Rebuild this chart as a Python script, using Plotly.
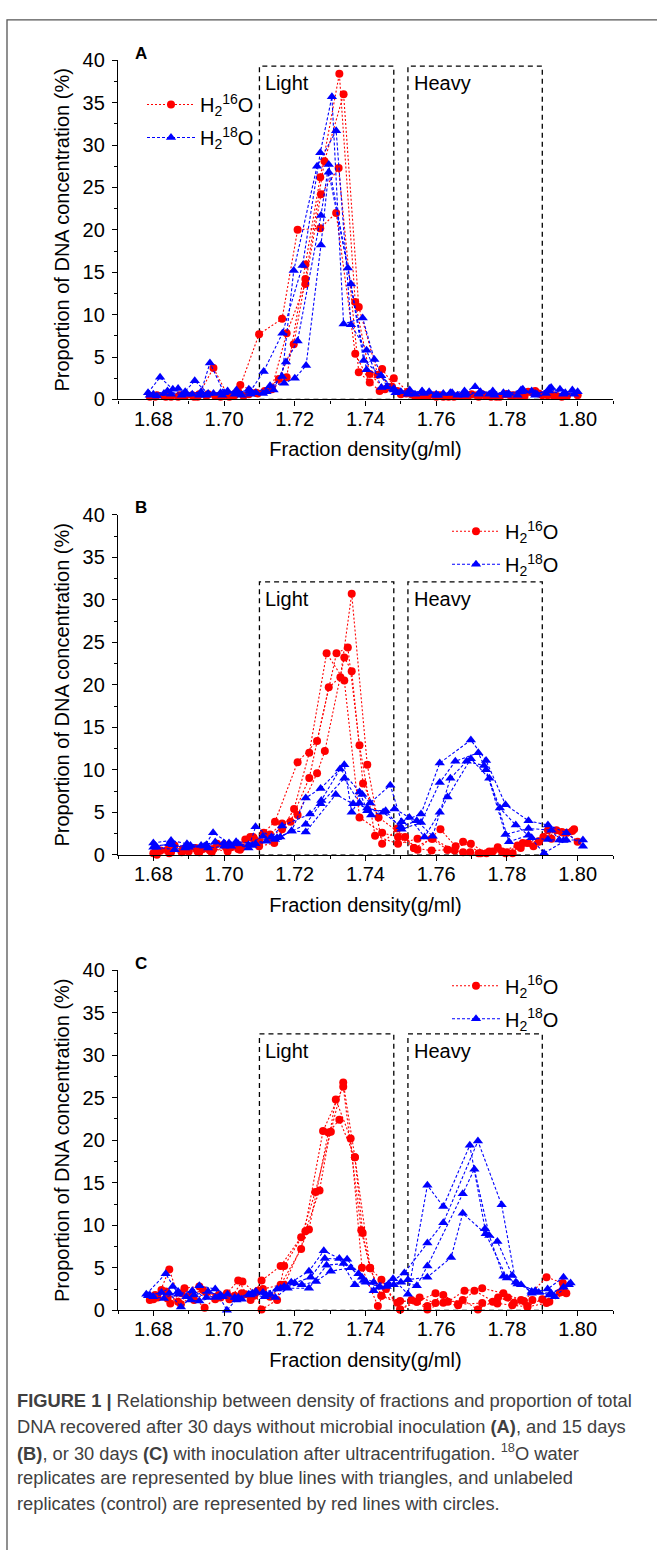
import plotly.graph_objects as go

# ---------------- data ----------------
# Panel A : 30 days, no inoculation
ra1_x = [1.6795, 1.6835, 1.6875, 1.6915, 1.6955, 1.6995, 1.7040, 1.7099, 1.7164, 1.7208, 1.7272, 1.7317, 1.7371, 1.7412, 1.7447, 1.7490, 1.7530, 1.7570, 1.7610, 1.7650, 1.7690, 1.7730, 1.7770, 1.7810, 1.7850, 1.7890, 1.7930, 1.7970]
ra1_y = [0.4, 0.3, 0.5, 0.3, 0.6, 0.4, 0.9, 7.7, 9.5, 20.0, 20.2, 22.0, 5.4, 2.0, 3.6, 1.0, 0.6, 0.4, 0.5, 0.3, 0.4, 0.6, 0.3, 0.5, 0.4, 0.7, 0.5, 0.4]
ra2_x = [1.6805, 1.6845, 1.6885, 1.6925, 1.6970, 1.7010, 1.7046, 1.7090, 1.7135, 1.7177, 1.7230, 1.7272, 1.7326, 1.7371, 1.7412, 1.7455, 1.7500, 1.7540, 1.7580, 1.7620, 1.7660, 1.7700, 1.7740, 1.7780, 1.7820, 1.7860, 1.7900, 1.7940, 1.8000]
ra2_y = [0.3, 0.5, 0.4, 0.3, 3.7, 0.5, 1.7, 0.8, 1.2, 2.6, 15.9, 26.2, 38.4, 11.5, 3.0, 1.2, 0.6, 0.4, 0.5, 0.3, 0.4, 0.6, 0.4, 0.3, 0.5, 0.9, 0.5, 0.4, 0.5]
ra3_x = [1.6790, 1.6830, 1.6870, 1.6910, 1.6950, 1.6990, 1.7030, 1.7070, 1.7115, 1.7155, 1.7197, 1.7230, 1.7284, 1.7338, 1.7381, 1.7435, 1.7475, 1.7515, 1.7555, 1.7595, 1.7635, 1.7675, 1.7715, 1.7755, 1.7795, 1.7835, 1.7875, 1.7915, 1.7955]
ra3_y = [0.3, 0.4, 0.3, 0.5, 0.4, 0.3, 0.5, 0.6, 1.0, 2.4, 6.5, 14.2, 28.1, 36.0, 10.9, 2.9, 1.5, 0.7, 0.4, 0.5, 0.3, 0.4, 0.5, 0.3, 0.6, 0.4, 0.8, 0.5, 0.3]
ra4_x = [1.6810, 1.6850, 1.6890, 1.6930, 1.6975, 1.7015, 1.7055, 1.7095, 1.7135, 1.7177, 1.7230, 1.7274, 1.7324, 1.7381, 1.7440, 1.7480, 1.7520, 1.7560, 1.7600, 1.7640, 1.7680, 1.7720, 1.7760, 1.7800, 1.7840, 1.7880, 1.7920, 1.7960]
ra4_y = [0.5, 0.3, 0.4, 0.6, 0.4, 0.3, 0.4, 0.7, 1.3, 7.8, 13.6, 24.2, 27.3, 3.2, 1.0, 2.5, 0.9, 0.5, 0.3, 0.4, 0.5, 0.3, 0.4, 0.6, 0.5, 1.0, 0.6, 0.4]

ba1_x = [1.6785, 1.6819, 1.6855, 1.6895, 1.6935, 1.6960, 1.7000, 1.7040, 1.7075, 1.7112, 1.7165, 1.7222, 1.7272, 1.7305, 1.7338, 1.7392, 1.7425, 1.7460, 1.7500, 1.7540, 1.7580, 1.7620, 1.7660, 1.7710, 1.7750, 1.7790, 1.7830, 1.7870, 1.7910, 1.7950, 1.7990]
ba1_y = [0.8, 2.6, 1.2, 0.6, 0.9, 4.3, 0.8, 0.7, 1.0, 3.3, 7.8, 15.8, 29.1, 35.7, 8.9, 9.6, 4.7, 1.5, 0.9, 0.6, 0.9, 0.7, 0.5, 1.5, 0.6, 0.8, 0.5, 1.0, 0.7, 1.2, 0.6]
ba2_x = [1.6800, 1.6840, 1.6880, 1.6917, 1.6955, 1.6995, 1.7035, 1.7075, 1.7120, 1.7164, 1.7197, 1.7263, 1.7317, 1.7359, 1.7403, 1.7445, 1.7485, 1.7525, 1.7565, 1.7605, 1.7645, 1.7685, 1.7725, 1.7765, 1.7805, 1.7845, 1.7885, 1.7925, 1.7965]
ba2_y = [0.6, 1.0, 0.5, 2.2, 0.7, 0.5, 1.1, 0.6, 0.9, 2.7, 15.2, 27.5, 31.7, 8.8, 5.8, 1.4, 0.8, 1.1, 0.7, 0.5, 0.8, 0.6, 0.9, 0.5, 0.7, 1.2, 0.6, 1.4, 0.8]
ba3_x = [1.6790, 1.6830, 1.6870, 1.6910, 1.6950, 1.6990, 1.7030, 1.7070, 1.7110, 1.7140, 1.7175, 1.7208, 1.7274, 1.7296, 1.7350, 1.7395, 1.7444, 1.7480, 1.7520, 1.7560, 1.7600, 1.7640, 1.7680, 1.7720, 1.7760, 1.7800, 1.7840, 1.7880, 1.7920, 1.7960, 1.7985]
ba3_y = [0.5, 0.7, 1.3, 0.6, 0.5, 0.8, 0.6, 1.2, 0.7, 1.1, 4.4, 6.9, 21.7, 27.7, 15.5, 4.6, 2.8, 1.3, 0.7, 1.0, 0.6, 0.8, 0.5, 0.7, 1.0, 0.6, 0.9, 0.5, 1.3, 0.7, 1.1]
ba4_x = [1.6810, 1.6850, 1.6890, 1.6930, 1.6970, 1.7010, 1.7050, 1.7090, 1.7130, 1.7170, 1.7200, 1.7232, 1.7274, 1.7296, 1.7359, 1.7403, 1.7444, 1.7480, 1.7520, 1.7560, 1.7600, 1.7640, 1.7680, 1.7720, 1.7760, 1.7800, 1.7840, 1.7880, 1.7920, 1.7960, 1.8000]
ba4_y = [0.4, 0.6, 0.9, 0.5, 0.7, 1.0, 0.5, 0.8, 1.6, 1.9, 2.5, 4.0, 18.2, 26.8, 13.6, 3.5, 2.8, 1.1, 0.6, 0.9, 0.5, 0.7, 1.0, 0.6, 0.8, 0.5, 1.1, 0.7, 1.0, 0.6, 0.9]

# Panel B : 15 days with inoculation
rb1_x = [1.6800, 1.6840, 1.6880, 1.6920, 1.6960, 1.7000, 1.7040, 1.7074, 1.7099, 1.7142, 1.7188, 1.7241, 1.7296, 1.7329, 1.7361, 1.7405, 1.7447, 1.7490, 1.7537, 1.7587, 1.7632, 1.7676, 1.7726, 1.7774, 1.7816, 1.7859, 1.7903, 1.7955, 1.7990]
rb1_y = [0.2, 0.6, 0.3, 0.8, 0.5, 1.2, 0.7, 2.1, 1.0, 1.4, 3.9, 9.05, 19.7, 20.9, 30.7, 10.6, 1.3, 3.1, 0.8, 0.5, 0.6, 1.55, 0.2, 0.9, 0.2, 1.4, 2.1, 2.7, 3.0]
rb2_x = [1.6810, 1.6850, 1.6890, 1.6930, 1.6970, 1.7010, 1.7050, 1.7082, 1.7112, 1.7144, 1.7208, 1.7263, 1.7318, 1.7350, 1.7383, 1.7427, 1.7492, 1.7547, 1.7590, 1.7652, 1.7696, 1.7750, 1.7796, 1.7839, 1.7890, 1.7926, 1.7970, 1.8000]
rb2_y = [0.0, 0.3, 0.5, 0.3, 0.7, 0.4, 0.9, 2.1, 2.6, 3.9, 10.9, 13.4, 23.7, 24.4, 12.9, 2.25, 1.3, 1.9, 1.9, 0.5, 0.3, 0.4, 0.2, 0.8, 1.55, 1.9, 2.6, 1.55]
rb3_x = [1.6820, 1.6860, 1.6900, 1.6940, 1.6980, 1.7020, 1.7060, 1.7100, 1.7130, 1.7164, 1.7208, 1.7263, 1.7285, 1.7340, 1.7361, 1.7393, 1.7437, 1.7512, 1.7547, 1.7612, 1.7655, 1.7698, 1.7742, 1.7786, 1.7830, 1.7875, 1.7916, 1.7960]
rb3_y = [0.5, 1.1, 0.4, 0.7, 1.3, 0.9, 1.8, 1.5, 2.4, 3.7, 4.7, 9.6, 12.2, 23.2, 21.6, 8.4, 4.4, 2.1, 0.6, 3.0, 1.0, 1.3, 0.2, 0.4, 1.1, 1.0, 2.9, 2.6]
rb4_x = [1.6805, 1.6845, 1.6885, 1.6925, 1.6965, 1.7005, 1.7045, 1.7085, 1.7125, 1.7164, 1.7198, 1.7241, 1.7290, 1.7340, 1.7383, 1.7447, 1.7492, 1.7537, 1.7587, 1.7632, 1.7676, 1.7720, 1.7760, 1.7800, 1.7845, 1.7890, 1.7940, 1.7985]
rb4_y = [0.3, 0.2, 0.7, 0.4, 0.3, 0.9, 0.6, 1.9, 2.0, 3.0, 5.4, 12.0, 23.7, 20.5, 4.4, 2.6, 2.1, 0.8, 1.9, 0.6, 0.3, 0.2, 0.4, 0.3, 1.4, 1.6, 2.9, 2.8]

bb1_x = [1.6800, 1.6850, 1.6895, 1.6944, 1.6969, 1.7014, 1.7069, 1.7089, 1.7144, 1.7191, 1.7231, 1.7273, 1.7340, 1.7361, 1.7391, 1.7413, 1.7470, 1.7502, 1.7557, 1.7610, 1.7698, 1.7741, 1.7796, 1.7861, 1.7916, 1.7968, 1.8015]
bb1_y = [1.4, 1.7, 1.3, 1.0, 2.6, 1.4, 0.8, 3.3, 1.8, 2.8, 6.7, 7.8, 10.6, 5.0, 7.1, 6.1, 8.2, 3.9, 4.8, 10.8, 13.5, 11.1, 5.9, 4.0, 3.5, 2.6, 1.0]
bb2_x = [1.6805, 1.6855, 1.6900, 1.6950, 1.6999, 1.7034, 1.7089, 1.7134, 1.7164, 1.7243, 1.7275, 1.7328, 1.7383, 1.7405, 1.7457, 1.7502, 1.7557, 1.7610, 1.7654, 1.7719, 1.7741, 1.7796, 1.7861, 1.7926, 1.7948, 1.8015]
bb2_y = [1.1, 1.2, 0.9, 1.2, 1.4, 1.55, 1.3, 2.1, 3.4, 4.8, 6.4, 10.1, 7.4, 5.2, 5.2, 3.0, 3.8, 8.5, 11.0, 12.0, 10.0, 2.4, 3.1, 2.9, 1.75, 1.75]
bb3_x = [1.6810, 1.6860, 1.6905, 1.6955, 1.7000, 1.7040, 1.7080, 1.7120, 1.7159, 1.7231, 1.7273, 1.7340, 1.7383, 1.7416, 1.7482, 1.7524, 1.7567, 1.7610, 1.7632, 1.7698, 1.7750, 1.7806, 1.7861, 1.7905, 1.7968]
bb3_y = [0.9, 0.6, 1.1, 0.8, 1.0, 1.3, 1.1, 1.6, 2.1, 3.6, 6.0, 9.0, 6.1, 4.7, 5.4, 4.4, 2.1, 5.0, 6.8, 11.3, 9.0, 1.55, 2.3, 0.2, 1.75]
bb4_x = [1.6800, 1.6845, 1.6890, 1.6935, 1.6975, 1.7020, 1.7069, 1.7110, 1.7150, 1.7191, 1.7231, 1.7316, 1.7365, 1.7405, 1.7450, 1.7500, 1.7545, 1.7590, 1.7640, 1.7686, 1.7735, 1.7780, 1.7825, 1.7870, 1.7916, 1.7960]
bb4_y = [0.9, 1.3, 0.8, 1.1, 1.5, 1.0, 1.2, 2.2, 2.0, 2.8, 2.7, 7.1, 6.0, 5.5, 5.0, 3.3, 4.0, 2.2, 9.0, 11.0, 10.5, 5.5, 3.5, 2.0, 1.8, 1.7]

# Panel C : 30 days with inoculation
rc1_x = [1.6790, 1.6823, 1.6848, 1.6888, 1.6930, 1.6975, 1.7008, 1.7040, 1.7075, 1.7106, 1.7160, 1.7218, 1.7258, 1.7302, 1.7337, 1.7370, 1.7392, 1.7413, 1.7445, 1.7498, 1.7545, 1.7598, 1.7633, 1.7680, 1.7730, 1.7790, 1.7848, 1.7912, 1.7958]
rc1_y = [1.2, 2.4, 0.8, 2.6, 2.8, 1.3, 2.0, 3.5, 1.2, 3.5, 5.2, 8.6, 13.9, 21.0, 26.8, 18.0, 9.1, 4.95, 1.7, 1.1, 1.0, 2.0, 1.0, 2.3, 2.6, 2.0, 1.1, 3.9, 3.2]
rc2_x = [1.6812, 1.6845, 1.6878, 1.6908, 1.6945, 1.6985, 1.7020, 1.7052, 1.7088, 1.7106, 1.7150, 1.7170, 1.7230, 1.7270, 1.7316, 1.7358, 1.7390, 1.7435, 1.7458, 1.7498, 1.7553, 1.7598, 1.7662, 1.7708, 1.7773, 1.7815, 1.7858, 1.7912, 1.7968]
rc2_y = [1.5, 4.8, 0.7, 1.7, 0.3, 1.8, 1.5, 3.4, 2.0, 0.1, 1.2, 5.2, 9.3, 14.1, 24.8, 20.2, 5.0, 0.5, 2.5, 0.1, 1.5, 0.85, 0.6, 2.3, 0.8, 0.6, 0.4, 0.85, 2.0]
rc3_x = [1.6800, 1.6835, 1.6870, 1.6905, 1.6940, 1.6978, 1.7015, 1.7050, 1.7085, 1.7110, 1.7160, 1.7218, 1.7280, 1.7337, 1.7388, 1.7413, 1.7445, 1.7498, 1.7545, 1.7575, 1.7620, 1.7675, 1.7718, 1.7760, 1.7802, 1.7840, 1.7872, 1.7920, 1.7960]
rc3_y = [1.3, 2.2, 1.0, 1.8, 2.4, 1.6, 1.3, 2.0, 1.7, 2.5, 3.0, 7.2, 21.1, 26.3, 9.4, 4.95, 3.6, 0.1, 1.0, 0.1, 0.9, 1.2, 0.1, 1.0, 1.5, 1.2, 1.2, 1.0, 2.6]
rc4_x = [1.6805, 1.6840, 1.6880, 1.6915, 1.6950, 1.6990, 1.7030, 1.7060, 1.7095, 1.7130, 1.7170, 1.7240, 1.7295, 1.7326, 1.7370, 1.7413, 1.7445, 1.7490, 1.7530, 1.7575, 1.7620, 1.7662, 1.7730, 1.7775, 1.7820, 1.7858, 1.7900, 1.7950]
rc4_y = [1.8, 1.4, 2.0, 1.2, 2.1, 1.5, 1.7, 1.9, 2.3, 1.6, 3.0, 9.5, 20.9, 22.4, 18.0, 5.0, 1.7, 0.9, 1.2, 0.5, 1.8, 0.7, 0.85, 1.5, 0.9, 0.5, 1.3, 2.1]

bc1_x = [1.6780, 1.6835, 1.6870, 1.6910, 1.6950, 1.6990, 1.7030, 1.7070, 1.7110, 1.7150, 1.7190, 1.7240, 1.7282, 1.7326, 1.7370, 1.7402, 1.7440, 1.7478, 1.7520, 1.7575, 1.7620, 1.7695, 1.7738, 1.7773, 1.7815, 1.7870, 1.7915, 1.7960]
bc1_y = [1.9, 4.3, 1.9, 2.3, 1.5, 1.8, 1.5, 1.9, 2.1, 2.5, 3.3, 4.6, 7.0, 6.1, 3.0, 3.3, 2.8, 3.7, 1.9, 14.7, 12.2, 19.4, 9.6, 8.1, 4.1, 2.0, 2.5, 3.9]
bc2_x = [1.6790, 1.6823, 1.6855, 1.6893, 1.6930, 1.6975, 1.7008, 1.7040, 1.7080, 1.7120, 1.7160, 1.7200, 1.7245, 1.7285, 1.7348, 1.7390, 1.7423, 1.7465, 1.7510, 1.7575, 1.7620, 1.7718, 1.7785, 1.7825, 1.7870, 1.7925, 1.7980]
bc2_y = [1.8, 2.1, 2.8, 1.6, 2.9, 2.5, 0.0, 1.5, 2.0, 1.8, 2.6, 3.2, 3.9, 6.1, 6.0, 3.9, 3.3, 3.1, 4.4, 7.9, 10.3, 19.9, 12.4, 3.3, 2.2, 2.0, 3.2]
bc3_x = [1.6800, 1.6845, 1.6878, 1.6915, 1.6955, 1.6995, 1.7035, 1.7075, 1.7115, 1.7145, 1.7180, 1.7240, 1.7290, 1.7338, 1.7380, 1.7423, 1.7460, 1.7500, 1.7545, 1.7575, 1.7675, 1.7708, 1.7750, 1.7790, 1.7830, 1.7880, 1.7920, 1.7960]
bc3_y = [1.6, 2.0, 0.4, 1.8, 2.2, 1.6, 1.2, 1.8, 1.6, 1.5, 2.6, 2.6, 5.3, 5.5, 4.3, 2.3, 2.8, 3.3, 2.9, 5.2, 13.7, 16.6, 8.8, 4.0, 3.1, 2.3, 1.8, 2.7]
bc4_x = [1.6785, 1.6830, 1.6870, 1.6905, 1.6930, 1.6975, 1.7010, 1.7050, 1.7090, 1.7130, 1.7170, 1.7220, 1.7260, 1.7302, 1.7358, 1.7395, 1.7440, 1.7480, 1.7520, 1.7575, 1.7642, 1.7675, 1.7740, 1.7800, 1.7840, 1.7890, 1.7935, 1.7975]
bc4_y = [1.7, 1.4, 2.2, 1.2, 1.1, 1.5, 1.9, 1.3, 2.2, 1.9, 2.8, 3.0, 3.4, 4.6, 5.0, 3.5, 2.7, 3.0, 3.6, 3.9, 6.2, 11.4, 9.0, 3.8, 3.0, 2.1, 1.6, 3.0]

panel_labels = ["A", "B", "C"]
box_tops = [39.3, 32.1, 32.5]          # top of the Light / Heavy boxes (%)
light_band = [1.710, 1.748]
heavy_band = [1.752, 1.790]
x_ticks = [1.68, 1.70, 1.72, 1.74, 1.76, 1.78, 1.80]
y_ticks = [0, 5, 10, 15, 20, 25, 30, 35, 40]

caption_lines = [
    "<b>FIGURE 1 |</b> Relationship between density of fractions and proportion of total",
    "DNA recovered after 30 days without microbial inoculation <b>(A)</b>, and 15 days",
    "<b>(B)</b>, or 30 days <b>(C)</b> with inoculation after ultracentrifugation. <sup>18</sup>O water",
    "replicates are represented by blue lines with triangles, and unlabeled",
    "replicates (control) are represented by red lines with circles.",
]

red_sets = [
    [(ra1_x, ra1_y), (ra2_x, ra2_y), (ra3_x, ra3_y), (ra4_x, ra4_y)],
    [(rb1_x, rb1_y), (rb2_x, rb2_y), (rb3_x, rb3_y), (rb4_x, rb4_y)],
    [(rc1_x, rc1_y), (rc2_x, rc2_y), (rc3_x, rc3_y), (rc4_x, rc4_y)],
]
blue_sets = [
    [(ba1_x, ba1_y), (ba2_x, ba2_y), (ba3_x, ba3_y), (ba4_x, ba4_y)],
    [(bb1_x, bb1_y), (bb2_x, bb2_y), (bb3_x, bb3_y), (bb4_x, bb4_y)],
    [(bc1_x, bc1_y), (bc2_x, bc2_y), (bc3_x, bc3_y), (bc4_x, bc4_y)],
]

# ---------------- layout helpers ----------------
W, H = 657, 1550
FONT = "Liberation Sans, Arial, sans-serif"


def fx(px):
    return px / W


def fy(py):
    return 1 - py / H


panel_px = [(50, 394), (511, 856), (973, 1318)]   # (top, bottom) of each plot area in px
x_dom = [fx(118), fx(613)]

fig = go.Figure()

legend_names = ["legend", "legend2", "legend3"]
for p in range(3):
    sfx = "" if p == 0 else str(p + 1)
    xref, yref = "x" + sfx, "y" + sfx
    for i, (xs, ys) in enumerate(red_sets[p]):
        fig.add_trace(go.Scatter(
            x=xs, y=ys, xaxis=xref, yaxis=yref, mode="lines+markers",
            name="H<sub>2</sub><sup>16</sup>O", legend=legend_names[p],
            legendgroup="r%d" % p, showlegend=(i == 0), cliponaxis=False,
            line=dict(color="#ff0000", width=1.1, dash="2px,2px"),
            marker=dict(symbol="circle", size=8, color="#ff0000"),
        ))
    for i, (xs, ys) in enumerate(blue_sets[p]):
        fig.add_trace(go.Scatter(
            x=xs, y=ys, xaxis=xref, yaxis=yref, mode="lines+markers",
            name="H<sub>2</sub><sup>18</sup>O", legend=legend_names[p],
            legendgroup="b%d" % p, showlegend=(i == 0), cliponaxis=False,
            line=dict(color="#0000ff", width=1.1, dash="3px,2px"),
            marker=dict(symbol="triangle-up", size=9, color="#0000ff"),
        ))

axis_common = dict(
    showline=True, linecolor="black", linewidth=1.3, mirror=False,
    ticks="outside", ticklen=5, tickwidth=1.3, tickcolor="black",
    showgrid=False, zeroline=False,
    tickfont=dict(family=FONT, size=20, color="black"),
)

layout = dict(
    width=W, height=H, margin=dict(l=0, r=0, t=0, b=0),
    paper_bgcolor="white", plot_bgcolor="white",
    font=dict(family=FONT, color="black"),
    shapes=[], annotations=[],
)

for p in range(3):
    sfx = "" if p == 0 else str(p + 1)
    top, bot = panel_px[p]
    layout["xaxis" + sfx] = dict(
        axis_common, domain=x_dom, anchor="y" + sfx, range=[1.67, 1.81],
        tickmode="array", tickvals=x_ticks, ticktext=["%.2f" % v for v in x_ticks],
        minor=dict(ticks="outside", ticklen=3, tickwidth=1.3, tickcolor="black",
                   tick0=1.67, dtick=0.01),
        title=dict(text="Fraction density(g/ml)", standoff=13,
                   font=dict(family=FONT, size=20, color="black")),
    )
    layout["yaxis" + sfx] = dict(
        axis_common, domain=[fy(bot), fy(top)], anchor="x" + sfx, range=[0, 40],
        tickmode="array", tickvals=y_ticks,
        minor=dict(ticks="outside", ticklen=3, tickwidth=1.3, tickcolor="black",
                   tick0=0, dtick=2.5),
        ticklabelstandoff=3,
        title=dict(text="Proportion of DNA concentration (%)", standoff=7,
                   font=dict(family=FONT, size=20, color="black")),
    )
    xr, yr = "x" + sfx, "y" + sfx
    for (a, b), lab in [(light_band, "Light"), (heavy_band, "Heavy")]:
        layout["shapes"].append(dict(
            type="rect", xref=xr, yref=yr, x0=a, x1=b, y0=0, y1=box_tops[p],
            line=dict(color="black", width=1.3, dash="5px,4px"), layer="below"))
        layout["annotations"].append(dict(
            xref=xr, yref=yr, x=a, y=box_tops[p], text=lab, showarrow=False,
            xanchor="left", yanchor="top", xshift=4, yshift=-4,
            font=dict(family=FONT, size=20, color="black")))
    layout["annotations"].append(dict(
        xref="paper", yref="paper", x=fx(133), y=fy(top - 7), text="<b>%s</b>" % panel_labels[p],
        showarrow=False, xanchor="left", yanchor="middle",
        font=dict(family=FONT, size=17, color="black")))

legend_style = dict(bgcolor="rgba(0,0,0,0)", borderwidth=0, itemwidth=48,
                    font=dict(family=FONT, size=20, color="black"),
                    traceorder="grouped", tracegroupgap=4,
                    xanchor="left", yanchor="top")
layout["legend"] = dict(legend_style, x=fx(142), y=fy(75))
layout["legend2"] = dict(legend_style, x=fx(447), y=fy(508))
layout["legend3"] = dict(legend_style, x=fx(447), y=fy(969))

# outer frame of the figure
layout["shapes"].append(dict(type="rect", xref="paper", yref="paper",
                             x0=fx(7), x1=1.05, y0=-0.05, y1=fy(9),
                             line=dict(color="#555555", width=1.3)))

for k, line in enumerate(caption_lines):
    layout["annotations"].append(dict(
        xref="paper", yref="paper", x=fx(15), y=fy(1410 + 26 * k),
        xanchor="left", yanchor="middle", align="left", showarrow=False,
        text=line, font=dict(family=FONT, size=18.3, color="#404040")))

fig.update_layout(**layout)

# pull the x tick labels a little closer to the axis, as in the original
try:
    fig.update_xaxes(ticklabelstandoff=-4)
except Exception:
    pass

fig.write_html("out.html", config={"displayModeBar": False},
               post_script="document.body.style.margin='0';document.body.style.padding='0';")
